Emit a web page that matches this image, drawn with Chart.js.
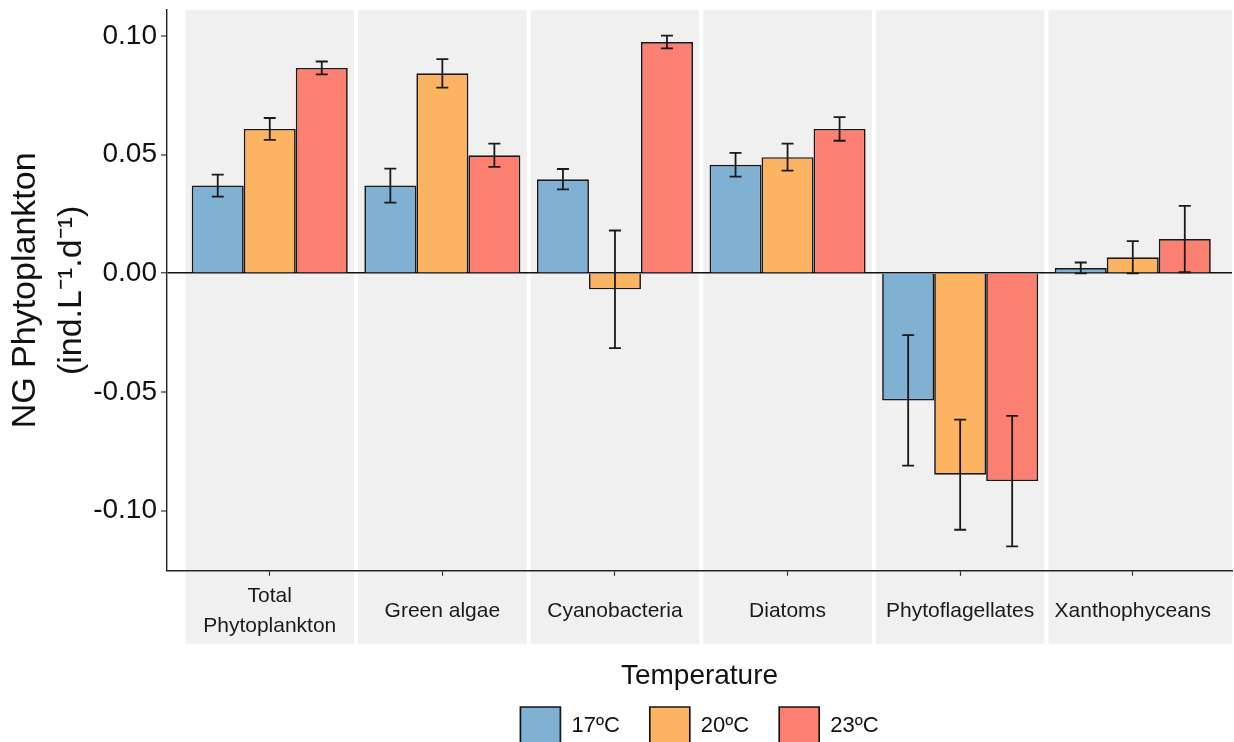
<!DOCTYPE html>
<html>
<head>
<meta charset="utf-8">
<script src="https://cdn.jsdelivr.net/npm/chart.js@4.4.1/dist/chart.umd.min.js"></script>
<style>
  html, body { margin: 0; padding: 0; background: #fff; overflow: hidden; }
  #wrap { position: relative; width: 1234px; height: 755px; }
</style>
</head>
<body>
<div id="wrap"><canvas id="ngChart"></canvas></div>
<script>
// groups along the x axis (first label wraps on two lines)
const categories = [['Total', 'Phytoplankton'], 'Green algae', 'Cyanobacteria', 'Diatoms', 'Phytoflagellates', 'Xanthophyceans'];
const temperatures = ['17ºC', '20ºC', '23ºC'];

// mean net growth per group
const ng17 = [0.0369, 0.0369, 0.0396, 0.0457, -0.0536, 0.0022];
const ng20 = [0.0608, 0.0842, -0.0068, 0.0489, -0.0849, 0.0067];
const ng23 = [0.0865, 0.0497, 0.0974, 0.0608, -0.0876, 0.0144];

// standard errors
const se17 = [0.0046, 0.0072, 0.0043, 0.0050, 0.0275, 0.0023];
const se20 = [0.0046, 0.0060, 0.0248, 0.0057, 0.0232, 0.0068];
const se23 = [0.0027, 0.0049, 0.0027, 0.0050, 0.0275, 0.0140];

const yTicks = [-0.10, -0.05, 0.00, 0.05, 0.10];

const fills = ['#80B1D3', '#FDB462', '#FB8072'];
const means = [ng17, ng20, ng23];
const errors = [se17, se20, se23];

Chart.defaults.font.family = "'Liberation Sans', Arial, sans-serif";
Chart.defaults.color = '#111';

// grey facet panels and the strips under the axis
const panelsPlugin = {
  id: 'panels',
  beforeDraw(chart) {
    const { ctx, chartArea, scales: { x } } = chart;
    ctx.save();
    ctx.fillStyle = '#F0F0F0';
    categories.forEach((c, i) => {
      const left = x.getPixelForValue(i - 0.5) + 2;
      const right = i === categories.length - 1 ? chartArea.right : x.getPixelForValue(i + 0.5) - 2;
      ctx.fillRect(left, chartArea.top, right - left, chartArea.bottom - chartArea.top);
      ctx.fillRect(left, chartArea.bottom + 1, right - left, 72);
    });
    ctx.restore();
  }
};

// error bars on top of each bar
const errorBarsPlugin = {
  id: 'errorBars',
  afterDatasetsDraw(chart) {
    const { ctx, scales: { y } } = chart;
    ctx.save();
    ctx.strokeStyle = '#1a1a1a';
    ctx.lineWidth = 1.8;
    chart.data.datasets.forEach((ds, d) => {
      const meta = chart.getDatasetMeta(d);
      meta.data.forEach((bar, i) => {
        const m = means[d][i];
        const e = errors[d][i];
        const yHi = y.getPixelForValue(m + e);
        const yLo = y.getPixelForValue(m - e);
        const cap = 6;
        ctx.beginPath();
        ctx.moveTo(bar.x, yHi);
        ctx.lineTo(bar.x, yLo);
        ctx.moveTo(bar.x - cap, yHi);
        ctx.lineTo(bar.x + cap, yHi);
        ctx.moveTo(bar.x - cap, yLo);
        ctx.lineTo(bar.x + cap, yLo);
        ctx.stroke();
      });
    });
    ctx.restore();
  }
};

const datasets = temperatures.map((t, d) => ({
  label: t,
  data: means[d].map((v, i) => ({ x: i, y: v })),
  backgroundColor: fills[d],
  borderColor: 'rgba(0,0,0,0.9)',
  borderWidth: 1.7,
  categoryPercentage: 0.904,
  barPercentage: 1
}));

new Chart(document.getElementById('ngChart'), {
  type: 'bar',
  data: { datasets },
  plugins: [panelsPlugin, errorBarsPlugin],
  options: {
    responsive: true,
    maintainAspectRatio: false,
    animation: false,
    layout: { padding: { top: 10, right: 2, left: 0, bottom: 0 } },
    plugins: {
      tooltip: { enabled: false },
      legend: {
        position: 'bottom',
        fullSize: false,
        title: {
          display: true,
          text: 'Temperature',
          font: { size: 28 },
          color: '#111',
          padding: { top: 9, bottom: -19 }
        },
        labels: {
          boxWidth: 40,
          boxHeight: 38,
          padding: 30,
          font: { size: 22 },
          color: '#111'
        }
      }
    },
    scales: {
      x: {
        type: 'linear',
        offset: false,
        min: -0.5953,
        max: 5.5749,
        afterBuildTicks: s => { s.ticks = categories.map((c, i) => ({ value: i })); },
        afterFit: s => { s.height = 82.6; s.paddingLeft = 0; s.paddingRight = 0; },
        ticks: {
          callback: v => categories[v],
          font: { size: 21, lineHeight: 1.45 },
          color: '#1a1a1a',
          padding: 20,
          crossAlign: 'center',
          maxRotation: 0,
          autoSkip: false
        },
        grid: { offset: false, drawOnChartArea: false, drawTicks: true, tickLength: 5, tickColor: '#333', tickWidth: 1.2 },
        border: { display: true, color: '#222', width: 1.4 }
      },
      y: {
        min: -0.1254,
        max: 0.1109,
        afterBuildTicks: s => { s.ticks = yTicks.map(v => ({ value: v })); },
        afterFit: s => { s.width = 167; s.paddingTop = 0; s.paddingBottom = 0; },
        ticks: {
          callback: v => (Math.abs(v) < 1e-9 ? '0.00' : v.toFixed(2)),
          font: { size: 28 },
          color: '#111',
          padding: 4
        },
        grid: {
          drawTicks: true,
          tickLength: 6,
          tickColor: '#333',
          tickWidth: 1.2,
          color: c => (Math.abs(c.tick.value) < 1e-9 ? '#111' : 'rgba(0,0,0,0)'),
          lineWidth: c => (Math.abs(c.tick.value) < 1e-9 ? 1.5 : 0)
        },
        border: { display: true, color: '#222', width: 1.4 },
        title: {
          display: true,
          text: ['NG Phytoplankton', '(ind.L⁻¹.d⁻¹)'],
          font: { size: 34, lineHeight: 1.34 },
          color: '#111',
          padding: { top: 3, bottom: 0 }
        }
      }
    }
  }
});
</script>
</body>
</html>
